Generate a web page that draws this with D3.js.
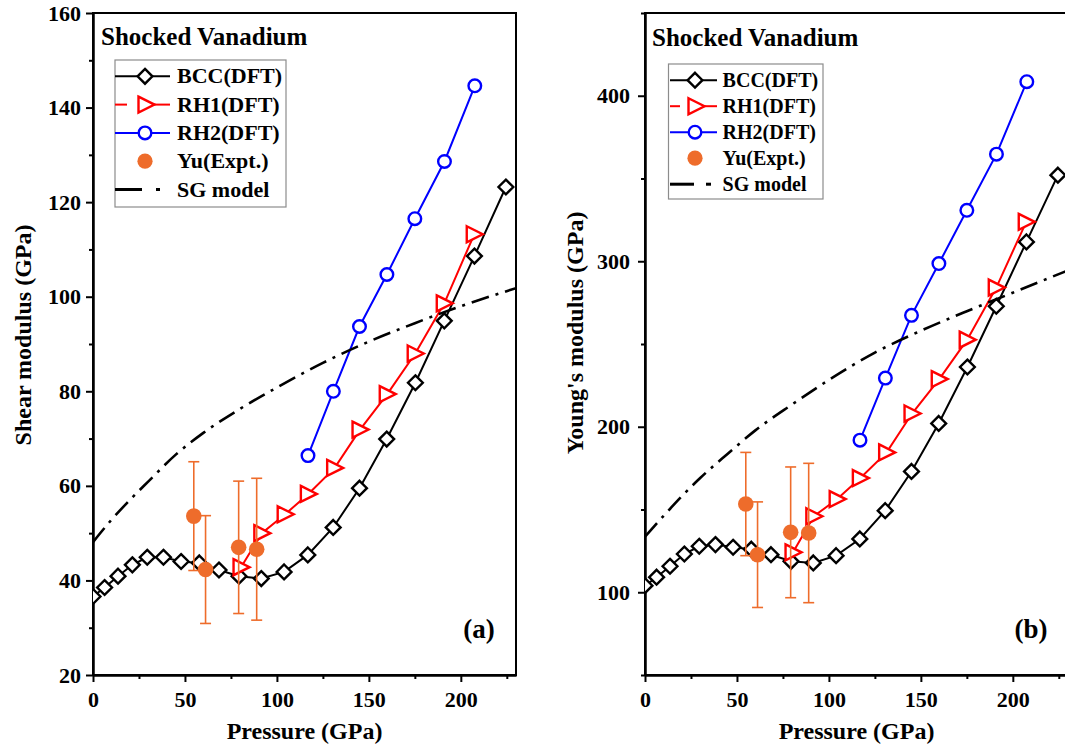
<!DOCTYPE html>
<html><head><meta charset="utf-8">
<script src="https://cdn.jsdelivr.net/npm/d3@7"></script>
<style>
body{margin:0;background:#fff}
svg{display:block}
text{font-family:"Liberation Serif","Times New Roman",serif;font-weight:bold;fill:#000}
</style>
</head><body>
<svg id="chart" width="1065" height="747"></svg>
<script>
// ---------------- data ----------------
const bccPressure = [0, 6.3, 13.6, 21.4, 29.5, 38.3, 47.9, 57.8, 68.5, 79.4, 91.5, 103.9, 116.8, 130.6, 144.9, 159.7, 175.3, 191.0, 207.4, 224.5];
const bccShear    = [36.6, 38.5, 40.9, 43.3, 44.9, 44.9, 44.0, 43.7, 42.2, 40.9, 40.4, 41.8, 45.4, 51.2, 59.5, 69.9, 81.8, 94.9, 108.6, 123.2];
const bccYoung    = [104.0, 109.1, 115.7, 123.1, 127.8, 128.8, 127.2, 126.0, 122.7, 118.7, 117.7, 122.1, 132.2, 149.3, 173.0, 202.0, 236.1, 272.8, 311.7, 352.0];

const rh1Pressure = [80.5, 91.8, 104.5, 117.1, 131.4, 145.2, 160.0, 175.2, 191.0, 207.3];
const rh1Shear    = [42.8, 50.0, 54.0, 58.3, 63.8, 71.9, 79.4, 88.0, 98.6, 113.2];
const rh1Young    = [124.1, 145.9, 156.3, 169.0, 184.5, 208.0, 228.8, 252.6, 284.1, 323.8];

const rh2Pressure = [116.9, 130.7, 144.9, 159.8, 175.0, 191.1, 207.6];
const rh2Shear    = [66.4, 80.0, 93.7, 104.7, 116.5, 128.6, 144.6];
const rh2Young    = [191.9, 229.4, 267.3, 298.6, 330.8, 364.7, 408.5];

const expPressure = [54.8, 61.2, 79.2, 89.0];
const expShear    = [53.6, 42.3, 47.0, 46.6];
const expShearErr = [11.5, 11.4, 14.0, 15.0];
const expYoung    = [153.3, 122.7, 136.2, 135.8];
const expYoungErr = [31.2, 31.9, 39.5, 42.1];

const sgPressure  = [0, 10, 20, 30, 45, 60, 80, 100, 125, 150, 175, 200, 230];
const sgShear     = [48.1, 52.8, 57.0, 60.9, 66.6, 71.2, 76.3, 80.8, 86.0, 90.5, 94.4, 98.0, 101.8];
const sgYoung     = [133.6, 146.0, 158.0, 169.0, 183.7, 197.8, 213.5, 228.3, 244.8, 258.0, 269.8, 281.0, 294.5];

const xMajorTicks = [0, 50, 100, 150, 200];
const xMinorTicks = [25, 75, 125, 175, 225];
const shearMajorTicks = [20, 40, 60, 80, 100, 120, 140, 160];
const shearMinorTicks = [30, 50, 70, 90, 110, 130, 150];
const youngMajorTicks = [100, 200, 300, 400];
const youngMinorTicks = [50, 150, 250, 350, 450];

const legendLabels = ["BCC(DFT)", "RH1(DFT)", "RH2(DFT)", "Yu(Expt.)", "SG model"];
const chartTitle = "Shocked Vanadium";
const xTitle = "Pressure (GPa)";

// ---------------- styles ----------------
const C_BCC = "#000000", C_RH1 = "#ff0000", C_RH2 = "#0000ff", C_EXP = "#ee6c2b";
const FONT = "Liberation Serif, Times New Roman, serif";

const panels = [
  { id: "a", left: 93, right: 516, top: 13, bottom: 675, yDomain: [20, 160],
    yMajor: shearMajorTicks, yMinor: shearMinorTicks, yPad: 5,
    yTitle: "Shear modulus (GPa)", yTitleX: 31, yTitleY: 335,
    bcc: bccShear, rh1: rh1Shear, rh2: rh2Shear, ex: expShear, exErr: expShearErr, sg: sgShear,
    titleX: 101, titleY: 45, tag: "(a)",
    legend: { box: [115, 60, 286, 207], lx0: 115, lx1: 170, mx: 145, tx: 177, base0: 83.3, step: 28.3, fs: 22, redGap: [127, 154], sgDash: [142, 156, 160] } },
  { id: "b", left: 645, right: 1068, top: 13, bottom: 675, yDomain: [50, 450],
    yMajor: youngMajorTicks, yMinor: youngMinorTicks, yPad: 8,
    yTitle: "Young's modulus (GPa)", yTitleX: 583, yTitleY: 333,
    bcc: bccYoung, rh1: rh1Young, rh2: rh2Young, ex: expYoung, exErr: expYoungErr, sg: sgYoung,
    titleX: 652, titleY: 46, tag: "(b)",
    legend: { box: [668.5, 64, 823, 199], lx0: 670, lx1: 717, mx: 695, tx: 722.6, base0: 87.2, step: 26, fs: 20, redGap: [680, 704], sgDash: [694, 706, 711] } }
];

const diamondPath = "M0,-7.4L7.4,0L0,7.4L-7.4,0Z";
const triPath = "M-7.5,-8L8.5,0L-7.5,8Z";

const svg = d3.select("#chart");

panels.forEach(p => {
  const x = d3.scaleLinear().domain([0, 230]).range([p.left, p.right]);
  const y = d3.scaleLinear().domain(p.yDomain).range([p.bottom, p.top]);
  const g = svg.append("g");

  const clipId = "clip-" + p.id;
  svg.append("clipPath").attr("id", clipId).append("rect")
    .attr("x", p.left).attr("y", p.top).attr("width", p.right - p.left).attr("height", p.bottom - p.top);

  const styleAxis = sel => {
    sel.attr("font-family", FONT).attr("font-size", 22).attr("font-weight", "bold");
    sel.select(".domain").attr("stroke-width", 2);
    sel.selectAll(".tick line").attr("stroke-width", 2);
    sel.selectAll("text").attr("fill", "#000");
  };
  g.append("g").attr("transform", `translate(0,${p.bottom})`)
    .call(d3.axisBottom(x).tickValues(xMajorTicks).tickSize(7).tickPadding(9.5).tickSizeOuter(0).tickFormat(d3.format("d")))
    .call(styleAxis);
  g.append("g").attr("transform", `translate(0,${p.bottom})`)
    .call(d3.axisBottom(x).tickValues(xMinorTicks).tickSize(4).tickSizeOuter(0).tickFormat(""))
    .call(styleAxis);
  g.append("g").attr("transform", `translate(${p.left},0)`)
    .call(d3.axisLeft(y).tickValues(p.yMajor).tickSize(7).tickPadding(p.yPad).tickSizeOuter(0).tickFormat(d3.format("d")))
    .call(styleAxis);
  g.append("g").attr("transform", `translate(${p.left},0)`)
    .call(d3.axisLeft(y).tickValues(p.yMinor).tickSize(4).tickSizeOuter(0).tickFormat(""))
    .call(styleAxis);

  g.append("rect").attr("x", p.left).attr("y", p.top).attr("width", p.right - p.left).attr("height", p.bottom - p.top)
    .attr("fill", "none").attr("stroke", "#000").attr("stroke-width", 2);

  g.append("text").attr("x", (p.left + p.right) / 2).attr("y", 739).attr("text-anchor", "middle")
    .attr("font-size", 24).text(xTitle);
  g.append("text").attr("transform", `translate(${p.yTitleX},${p.yTitleY}) rotate(-90)`).attr("text-anchor", "middle")
    .attr("font-size", 24).text(p.yTitle);
  g.append("text").attr("x", p.titleX).attr("y", p.titleY).attr("font-size", 25).text(chartTitle);
  g.append("text").attr("x", p.left + 386).attr("y", 638).attr("text-anchor", "middle").attr("font-size", 27).text(p.tag);

  const plot = g.append("g").attr("clip-path", `url(#${clipId})`);
  const line = d3.line().x(d => x(d[0])).y(d => y(d[1]));

  const series = [
    { P: bccPressure, V: p.bcc, color: C_BCC, sym: diamondPath },
    { P: rh1Pressure, V: p.rh1, color: C_RH1, sym: triPath },
    { P: rh2Pressure, V: p.rh2, color: C_RH2, sym: null }
  ];
  series.forEach(s => {
    const pts = s.P.map((v, i) => [v, s.V[i]]);
    plot.append("path").attr("d", line(pts)).attr("fill", "none").attr("stroke", s.color).attr("stroke-width", 2);
    pts.forEach(d => {
      if (s.sym) {
        plot.append("path").attr("d", s.sym).attr("transform", `translate(${x(d[0])},${y(d[1])})`)
          .attr("fill", "#fff").attr("stroke", s.color).attr("stroke-width", 2.4).attr("stroke-linejoin", "miter");
      } else {
        plot.append("circle").attr("cx", x(d[0])).attr("cy", y(d[1])).attr("r", 6.3)
          .attr("fill", "#fff").attr("stroke", s.color).attr("stroke-width", 2.4);
      }
    });
  });

  expPressure.forEach((pv, i) => {
    const cx = x(pv), v = p.ex[i], e = p.exErr[i];
    const yt = y(v + e), yb = y(v - e);
    plot.append("line").attr("x1", cx).attr("x2", cx).attr("y1", yt).attr("y2", yb).attr("stroke", C_EXP).attr("stroke-width", 1.6);
    [yt, yb].forEach(yy => plot.append("line").attr("x1", cx - 5.5).attr("x2", cx + 5.5).attr("y1", yy).attr("y2", yy)
      .attr("stroke", C_EXP).attr("stroke-width", 1.6));
    plot.append("circle").attr("cx", cx).attr("cy", y(v)).attr("r", 7.8).attr("fill", C_EXP);
  });

  const sgPts = sgPressure.map((v, i) => [v, p.sg[i]]);
  plot.append("path").attr("d", d3.line().curve(d3.curveMonotoneX).x(d => x(d[0])).y(d => y(d[1]))(sgPts))
    .attr("fill", "none").attr("stroke", "#000").attr("stroke-width", 2.6).attr("stroke-dasharray", "18,7,3,7");

  const L = p.legend;
  const lg = g.append("g");
  lg.append("rect").attr("x", L.box[0]).attr("y", L.box[1]).attr("width", L.box[2] - L.box[0]).attr("height", L.box[3] - L.box[1])
    .attr("fill", "#fff").attr("stroke", "#8c8c8c").attr("stroke-width", 1.2);
  legendLabels.forEach((lab, i) => {
    const base = L.base0 + i * L.step;
    const my = base - 7;
    if (i === 0) {
      lg.append("line").attr("x1", L.lx0).attr("x2", L.lx1).attr("y1", my).attr("y2", my).attr("stroke", C_BCC).attr("stroke-width", 2);
      lg.append("path").attr("d", diamondPath).attr("transform", `translate(${L.mx},${my})`).attr("fill", "#fff").attr("stroke", C_BCC).attr("stroke-width", 2.4);
    } else if (i === 1) {
      lg.append("line").attr("x1", L.lx0).attr("x2", L.redGap[0]).attr("y1", my).attr("y2", my).attr("stroke", C_RH1).attr("stroke-width", 2);
      lg.append("line").attr("x1", L.redGap[1]).attr("x2", L.lx1).attr("y1", my).attr("y2", my).attr("stroke", C_RH1).attr("stroke-width", 2);
      lg.append("path").attr("d", triPath).attr("transform", `translate(${L.mx + 1},${my})`).attr("fill", "#fff").attr("stroke", C_RH1).attr("stroke-width", 2.4);
    } else if (i === 2) {
      lg.append("line").attr("x1", L.lx0).attr("x2", L.lx1).attr("y1", my).attr("y2", my).attr("stroke", C_RH2).attr("stroke-width", 2);
      lg.append("circle").attr("cx", L.mx).attr("cy", my).attr("r", 6.3).attr("fill", "#fff").attr("stroke", C_RH2).attr("stroke-width", 2.4);
    } else if (i === 3) {
      lg.append("circle").attr("cx", L.mx).attr("cy", my).attr("r", 7.6).attr("fill", C_EXP);
    } else {
      lg.append("line").attr("x1", L.lx0).attr("x2", L.sgDash[0]).attr("y1", my).attr("y2", my).attr("stroke", "#000").attr("stroke-width", 3);
      lg.append("line").attr("x1", L.sgDash[1]).attr("x2", L.sgDash[2]).attr("y1", my).attr("y2", my).attr("stroke", "#000").attr("stroke-width", 3);
    }
    lg.append("text").attr("x", L.tx).attr("y", base).attr("font-size", L.fs).text(lab);
  });
});
</script>
</body></html>
